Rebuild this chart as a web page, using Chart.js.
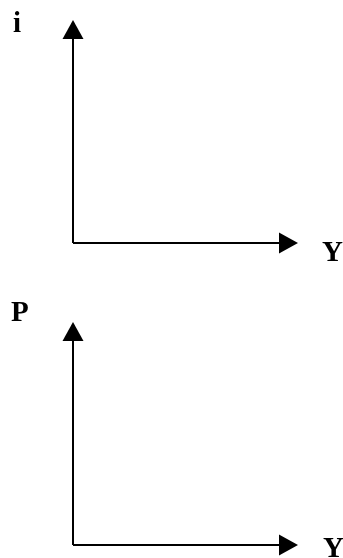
<!DOCTYPE html>
<html>
<head>
<meta charset="utf-8">
<script src="https://cdn.jsdelivr.net/npm/chart.js@4/dist/chart.umd.min.js"></script>
<style>
  html, body { margin: 0; padding: 0; background: #ffffff; }
  #wrap { position: relative; width: 343px; height: 558px; }
  .box { position: absolute; left: 0; width: 343px; height: 279px; }
</style>
</head>
<body>
<div id="wrap">
  <div class="box" style="top:0"><canvas id="c1" width="343" height="279"></canvas></div>
  <div class="box" style="top:279px"><canvas id="c2" width="343" height="279"></canvas></div>
</div>
<script>
// ---- data (blank axes diagram: no series, only the two axes of each panel) ----
const axisRange = [0, 10];
const xAxisLine = [{x: 0, y: 0}, {x: 10, y: 0}];
const yAxisLine = [{x: 0, y: 0}, {x: 0, y: 10}];
const topPanelLabels = ['i', 'Y'];     // [vertical axis, horizontal axis]
const bottomPanelLabels = ['P', 'Y'];  // [vertical axis, horizontal axis]

// ---- plugin: arrowheads at axis ends + axis letters ----
const arrowLabelPlugin = {
  id: 'arrowLabels',
  afterDatasetsDraw(chart, args, opts) {
    const ctx = chart.ctx;
    const xs = chart.scales.x, ys = chart.scales.y;
    const x0 = xs.getPixelForValue(axisRange[0]);
    const y0 = ys.getPixelForValue(axisRange[0]);
    const xEnd = xs.getPixelForValue(axisRange[1]);
    const yEnd = ys.getPixelForValue(axisRange[1]);
    const L = 19, H = 10.5;
    ctx.save();
    ctx.fillStyle = '#000';
    // vertical arrow
    ctx.beginPath();
    ctx.moveTo(x0, yEnd - L);
    ctx.lineTo(x0 - H, yEnd);
    ctx.lineTo(x0 + H, yEnd);
    ctx.closePath();
    ctx.fill();
    // horizontal arrow
    ctx.beginPath();
    ctx.moveTo(xEnd + L, y0);
    ctx.lineTo(xEnd, y0 - H);
    ctx.lineTo(xEnd, y0 + H);
    ctx.closePath();
    ctx.fill();
    // labels
    ctx.font = 'bold 29px "Liberation Serif", "Times New Roman", serif';
    ctx.textBaseline = 'alphabetic';
    ctx.textAlign = 'left';
    ctx.fillText(opts.labels[0], x0 + opts.vOff[0], yEnd + opts.vOff[1]);
    ctx.fillText(opts.labels[1], xEnd + opts.hOff[0], y0 + opts.hOff[1]);
    ctx.restore();
  }
};

function makePanel(id, labels, padding, vOff, hOff) {
  return new Chart(document.getElementById(id), {
    type: 'scatter',
    data: {
      datasets: [
        { data: xAxisLine, showLine: true, borderColor: '#000', borderWidth: 2, pointRadius: 0, clip: false, borderCapStyle: 'butt' },
        { data: yAxisLine, showLine: true, borderColor: '#000', borderWidth: 2, pointRadius: 0, clip: false, borderCapStyle: 'butt' }
      ]
    },
    options: {
      responsive: false,
      animation: false,
      events: [],
      layout: { padding: padding },
      scales: {
        x: { type: 'linear', min: axisRange[0], max: axisRange[1], display: false },
        y: { type: 'linear', min: axisRange[0], max: axisRange[1], display: false }
      },
      plugins: {
        legend: { display: false },
        tooltip: { enabled: false },
        arrowLabels: { labels: labels, vOff: vOff, hOff: hOff }
      }
    },
    plugins: [arrowLabelPlugin]
  });
}

makePanel('c1', topPanelLabels, { left: 73, right: 64, top: 39, bottom: 36 }, [-60, -7], [43, 18]);
makePanel('c2', bottomPanelLabels, { left: 73, right: 64, top: 62, bottom: 13 }, [-62, -20], [44, 12]);
</script>
</body>
</html>
